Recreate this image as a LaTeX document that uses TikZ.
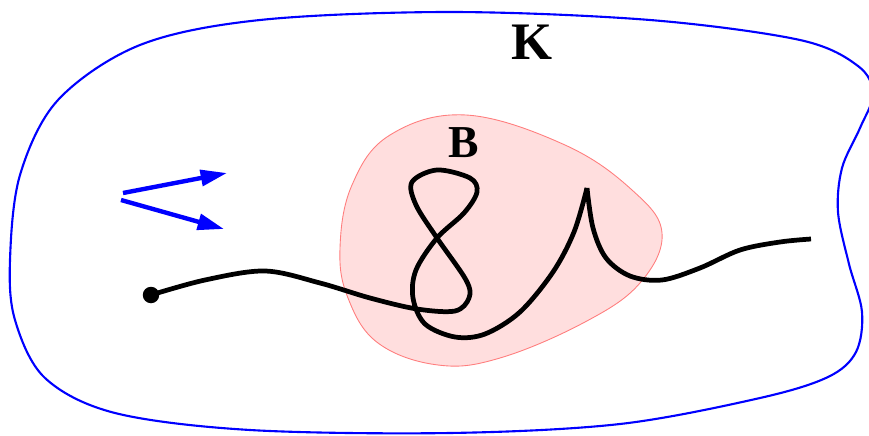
\documentclass[tikz,border=0pt]{standalone}
\usepackage{fontspec}
\setmainfont{Liberation Serif}
\usetikzlibrary{arrows.meta}
\definecolor{rim}{RGB}{0,0,255}
\definecolor{ball}{RGB}{255,222,222}
\definecolor{ballrim}{RGB}{255,125,125}
\tikzset{
  krim/.style={rim,line width=1.2pt},
  bset/.style={fill=ball,draw=ballrim,line width=0.5pt},
  wpath/.style={black,line width=2.7pt,line join=round},
  varr/.style={rim,line width=2.5pt,-{Triangle[length=15pt,width=9pt]}},
  blabel/.style={font=\bfseries\fontsize{30}{30}\selectfont,inner sep=0pt},
}
\begin{document}
\begin{tikzpicture}[x=0.02cm,y=-0.02cm]
  \useasboundingbox (0,0) rectangle (869,436);
  % outer region K
  \draw[krim] plot[smooth cycle,tension=0.55] coordinates {
    (450,12) (650,20) (800,40) (858,66) (873,94) (860,128) (842,168)
    (838,212) (849,264) (862,312) (856,352) (828,377) (760,398)
    (620,424) (450,433) (250,430) (115,413) (45,378) (15,320)
    (10,260) (20,175) (58,100) (140,45) (260,20)};
  % inner set B
  \draw[bset] plot[smooth cycle,tension=0.65] coordinates {
    (466,115) (565,145) (632,190) (662,233) (640,283) (585,322)
    (500,358) (438,365) (378,343) (348,298) (340,248) (352,185) (390,135)};
  \node[blabel] (K) at (532,42) {K};
  \node[blabel,font=\bfseries\fontsize{26}{26}\selectfont] (B) at (464,143) {B};
  % the walk
  \coordinate (w0) at (151,295);
  \coordinate (cusp) at (587,188);
  \coordinate (w1) at (811,239);
  \draw[wpath] plot[smooth,tension=0.55] coordinates {
    (w0) (205,280) (265,271) (320,283) (370,298) (417,309) (455,311)
    (469,298) (466,280) (437,238) (416,205) (412,182) (437,170)
    (470,178) (477,192) (464,213) (437,238) (416,270) (413,298)
    (425,324) (455,337) (485,334) (520,312) (553,272) (574,232) (cusp)};
  \draw[wpath] plot[smooth,tension=0.55] coordinates {
    (cusp) (593,228) (606,258) (630,276) (662,280) (700,268)
    (740,250) (780,242) (w1)};
  \fill (w0) circle[radius=0.165cm];
  % directions
  \coordinate (a0) at (123,193);
  \coordinate (a1) at (227,173);
  \coordinate (b0) at (121,200);
  \coordinate (b1) at (224,229);
  \draw[varr] (a0) -- (a1);
  \draw[varr] (b0) -- (b1);
\end{tikzpicture}
\end{document}
